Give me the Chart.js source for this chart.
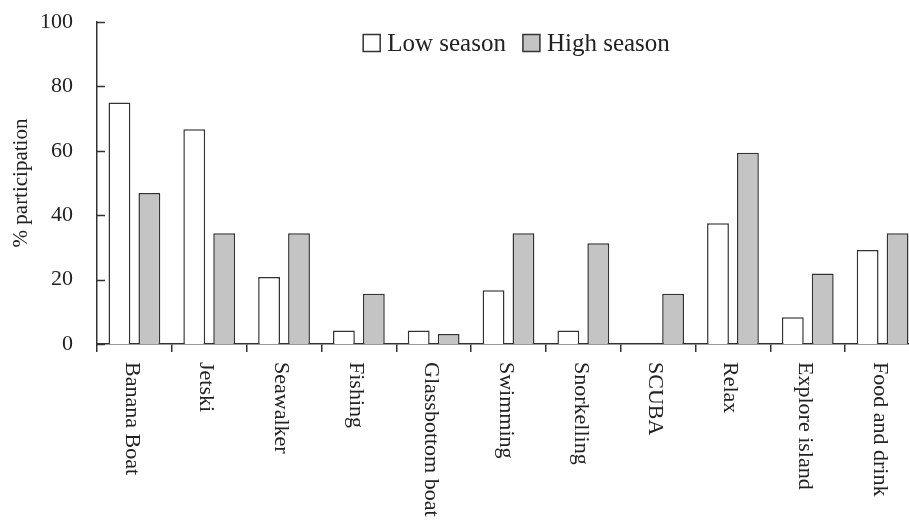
<!DOCTYPE html>
<html>
<head>
<meta charset="utf-8">
<title>% participation by activity</title>
<script src="https://cdn.jsdelivr.net/npm/chart.js@4.4.1/dist/chart.umd.min.js"></script>
<style>
    html, body { margin: 0; padding: 0; background: #fff; overflow: hidden; }
    .chart-box { position: absolute; left: 0; top: 0; width: 925px; height: 520px; }
</style>
</head>
<body>
<div class="chart-box"><canvas id="activity-chart"></canvas></div>
<script>
    "use strict";

    // Data
    var activities = ["Banana Boat", "Jetski", "Seawalker", "Fishing", "Glassbottom boat", "Swimming",
        "Snorkelling", "SCUBA", "Relax", "Explore island", "Food and drink"];
    var lowSeason = [75, 66.7, 20.8, 4.2, 4.2, 16.7, 4.2, 0, 37.5, 8.3, 29.2];
    var highSeason = [46.9, 34.4, 34.4, 15.6, 3.1, 34.4, 31.3, 15.6, 59.4, 21.9, 34.4];
    var yTicks = [0, 20, 40, 60, 80, 100];

    var serif = "'Liberation Serif', 'Times New Roman', serif";
    var ink = "#333";

    // inward tick marks on the y axis
    var yTickMarks = {
        id: "yTickMarks",
        afterDatasetsDraw: function (chart) {
            var y = chart.scales.y;
            var ctx = chart.ctx;
            ctx.save();
            ctx.strokeStyle = ink;
            ctx.lineWidth = 1.5;
            y.ticks.forEach(function (t) {
                var py = Math.round(y.getPixelForValue(t.value)) + 0.5;
                ctx.beginPath();
                ctx.moveTo(y.right, py);
                ctx.lineTo(y.right + 8, py);
                ctx.stroke();
            });
            ctx.restore();
        }
    };

    // category labels, turned to read top to bottom
    var xLabels = {
        id: "xLabels",
        afterDraw: function (chart) {
            var x = chart.scales.x;
            var ctx = chart.ctx;
            ctx.save();
            ctx.fillStyle = "#222";
            ctx.font = "22px " + serif;
            ctx.textAlign = "left";
            ctx.textBaseline = "middle";
            chart.data.labels.forEach(function (label, i) {
                ctx.save();
                ctx.translate(x.getPixelForTick(i) - 3, x.top + 18);
                ctx.rotate(Math.PI / 2);
                ctx.fillText(label, 0, 0);
                ctx.restore();
            });
            ctx.restore();
        }
    };

    // legend in one row inside the plot, above the bars
    var rowLegend = {
        id: "rowLegend",
        afterDraw: function (chart) {
            var area = chart.chartArea;
            var ctx = chart.ctx;
            var box = 17, gap = 7, spacing = 17;
            ctx.save();
            ctx.font = "25px " + serif;
            ctx.textBaseline = "middle";
            ctx.textAlign = "left";
            var sets = chart.data.datasets;
            var total = 0;
            sets.forEach(function (ds, i) {
                total += box + gap + ctx.measureText(ds.label).width + (i > 0 ? spacing : 0);
            });
            var x = (area.left + area.right) / 2 + 8 - total / 2;
            var y = area.top + 21;
            sets.forEach(function (ds) {
                ctx.fillStyle = ds.backgroundColor;
                ctx.strokeStyle = ds.borderColor;
                ctx.lineWidth = 1.5;
                ctx.fillRect(x, y - box / 2, box, box);
                ctx.strokeRect(x, y - box / 2, box, box);
                ctx.fillStyle = "#222";
                ctx.fillText(ds.label, x + box + gap, y + 1);
                x += box + gap + ctx.measureText(ds.label).width + spacing;
            });
            ctx.restore();
        }
    };

    // Bar Chart
    var ctx1 = document.getElementById("activity-chart").getContext("2d");
    var myChart1 = new Chart(ctx1, {
        type: "bar",
        data: {
            labels: activities,
            datasets: [{
                    label: "Low season",
                    data: lowSeason,
                    backgroundColor: "#ffffff",
                    borderColor: ink,
                    borderWidth: 1.5
                },
                {
                    label: "High season",
                    data: highSeason,
                    backgroundColor: "#c4c4c4",
                    borderColor: ink,
                    borderWidth: 1.5
                }
            ]
        },
        options: {
            responsive: true,
            maintainAspectRatio: false,
            animation: false,
            categoryPercentage: 0.8,
            barPercentage: 0.73,
            layout: {
                padding: { left: 0, right: 5, top: 22, bottom: 168 }
            },
            plugins: {
                tooltip: { enabled: false },
                legend: { display: false }
            },
            scales: {
                x: {
                    grid: {
                        display: true,
                        drawOnChartArea: false,
                        drawTicks: true,
                        tickLength: 8,
                        offset: true,
                        color: ink,
                        lineWidth: 1.5
                    },
                    border: { color: ink, width: 1.5 },
                    ticks: { display: false }
                },
                y: {
                    min: 0,
                    max: 100,
                    afterBuildTicks: function (scale) {
                        scale.ticks = yTicks.map(function (v) { return { value: v }; });
                    },
                    afterFit: function (scale) {
                        scale.width = 97;
                        scale.paddingTop = 0;
                        scale.paddingBottom = 0;
                    },
                    grid: { display: false, drawTicks: false },
                    border: { color: ink, width: 1.5 },
                    ticks: {
                        color: "#222",
                        padding: 24,
                        font: { family: serif, size: 22 }
                    },
                    title: {
                        display: true,
                        text: "% participation",
                        color: "#222",
                        padding: { top: 9, bottom: 0 },
                        font: { family: serif, size: 21 }
                    }
                }
            }
        },
        plugins: [yTickMarks, xLabels, rowLegend]
    });
</script>
</body>
</html>
